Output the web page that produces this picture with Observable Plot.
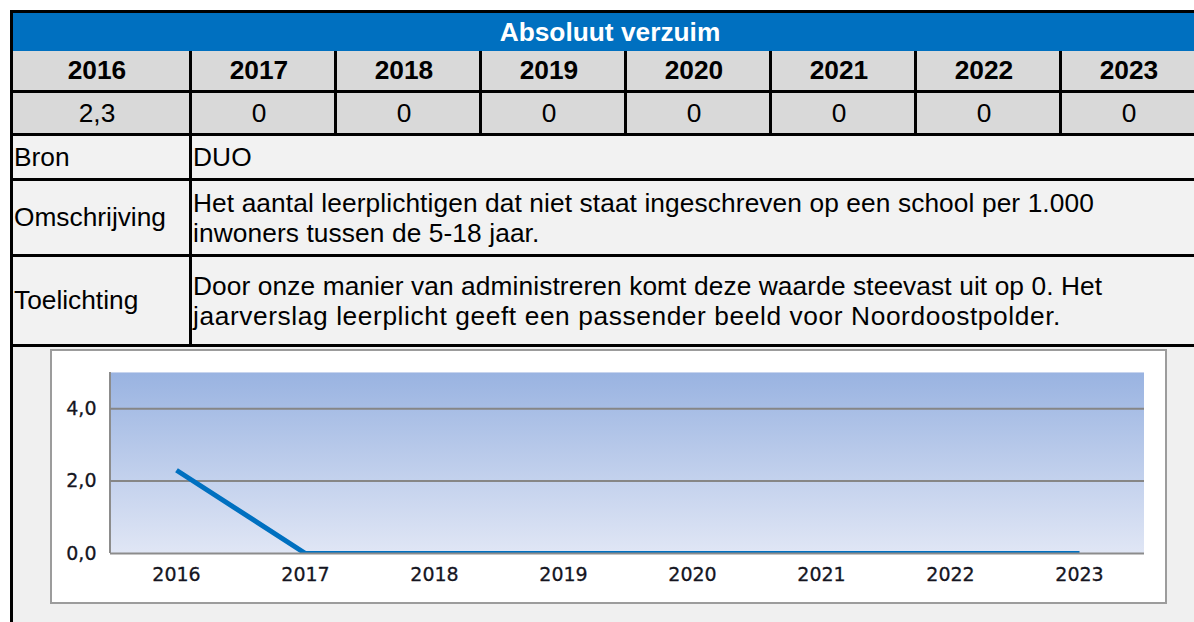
<!DOCTYPE html>
<html>
<head>
<meta charset="utf-8">
<script src="https://cdn.jsdelivr.net/npm/d3@7"></script>
<script src="https://cdn.jsdelivr.net/npm/@observablehq/plot@0.6"></script>
<style>
  html, body { margin: 0; padding: 0; }
  body { width: 1194px; height: 622px; overflow: hidden; position: relative; background: #ffffff;
         font-family: "Liberation Sans", Arial, sans-serif; color: #000; }
  #frame { position: absolute; left: 10px; top: 10px; width: 1200px; height: 700px; background: #000; }
  .cell { position: absolute; box-sizing: border-box; display: flex; align-items: center; white-space: nowrap;
          font-size: 26.3px; }
  .center { justify-content: center; }
  .line { display: block; line-height: 30px; }
  #chartBox { position: absolute; box-sizing: border-box; border: 2px solid #9c9c9c; background: #fff; }
</style>
</head>
<body>
<div id="frame"></div>
<script>
// ---- data ----
const title = "Absoluut verzuim";
const years = [2016, 2017, 2018, 2019, 2020, 2021, 2022, 2023];
const values = [2.3, 0, 0, 0, 0, 0, 0, 0];
const valueLabels = ["2,3", "0", "0", "0", "0", "0", "0", "0"];
const infoLabels = ["Bron", "Omschrijving", "Toelichting"];
const infoLines = [
  ["DUO"],
  ["Het aantal leerplichtigen dat niet staat ingeschreven op een school per 1.000",
   "inwoners tussen de 5-18 jaar."],
  ["Door onze manier van administreren komt deze waarde steevast uit op 0. Het",
   "jaarverslag leerplicht geeft een passender beeld voor Noordoostpolder."]
];
const yTicks = [0, 2, 4];
const yMax = 5;

// ---- table layout ----
const lineSpacing = [[0.1], [0.1, 0.1], [0.1, 0.6]];
const body = document.body;
function cell(x, y, w, h, bg, cls, html, style = "") {
  const d = document.createElement("div");
  d.className = "cell " + cls;
  d.style.cssText = `left:${x}px;top:${y}px;width:${w}px;height:${h}px;background:${bg};${style}`;
  d.innerHTML = html;
  body.appendChild(d);
  return d;
}
const left = 13, right = 1207;
const firstW = 176, colW = 142, gap = 3;
const colStart = i => i === 0 ? left : left + firstW + gap + (i - 1) * (colW + gap);
const colWidth = i => i === 0 ? firstW : colW;

// header
cell(left, 13, right - left, 38, "#0070c0", "center", title,
     "color:#fff;font-weight:bold;");
// years row
years.forEach((yr, i) => cell(colStart(i), 51, colWidth(i), 39, "#d9d9d9", "center", String(yr),
     "font-weight:bold;padding-right:8px;"));
// values row
valueLabels.forEach((v, i) => cell(colStart(i), 93, colWidth(i), 40, "#d9d9d9", "center", v,
     "padding-right:8px;"));
// info rows
const rowY = [[136, 42], [181, 73], [257, 87]];
infoLabels.forEach((lab, r) => {
  const [y, h] = rowY[r];
  cell(left, y, firstW, h, "#f2f2f2", "", lab, "padding-left:1px;");
  const html = infoLines[r].map((t, k) =>
    `<span class="line" style="letter-spacing:${lineSpacing[r][k]}px">${t}</span>`).join("");
  cell(left + firstW + gap, y, right - left - firstW - gap, h, "#f2f2f2", "",
       `<div>${html}</div>`, "padding-left:1px;");
});
// chart area background
cell(left, 347, right - left, 300, "#f0f0f0", "", "");

// ---- chart ----
const box = document.createElement("div");
box.id = "chartBox";
box.style.cssText = "left:50px;top:349px;width:1117px;height:255px;";
body.appendChild(box);

const data = years.map((yr, i) => ({year: yr, value: values[i]}));

function backdrop(index, scales, vals, dims) {
  const {width, height, marginLeft, marginRight, marginTop, marginBottom} = dims;
  const x0 = marginLeft, x1 = width - marginRight, y0 = marginTop, y1 = height - marginBottom;
  const g = d3.create("svg:g");
  const grad = g.append("defs").append("linearGradient")
    .attr("id", "plotGrad").attr("x1", 0).attr("y1", 0).attr("x2", 0).attr("y2", 1);
  grad.append("stop").attr("offset", 0).attr("stop-color", "#99b3e1");
  grad.append("stop").attr("offset", 1).attr("stop-color", "#e0e6f5");
  g.append("rect").attr("x", x0).attr("y", y0).attr("width", x1 - x0).attr("height", y1 - y0)
    .attr("fill", "url(#plotGrad)");
  g.append("line").attr("x1", x0).attr("x2", x1).attr("y1", y0 + 0.5).attr("y2", y0 + 0.5)
    .attr("stroke", "#c7d4ee").attr("stroke-width", 1);
  g.append("line").attr("x1", x0).attr("x2", x0).attr("y1", y0).attr("y2", y1)
    .attr("stroke", "#8c8c8c").attr("stroke-width", 2);
  return g.node();
}

const axisFont = {fontSize: 19, fill: "#15151f", textStroke: "#15151f", textStrokeWidth: 0.3};
const chart = Plot.plot({
  width: 1113,
  height: 251,
  marginLeft: 58,
  marginRight: 21,
  marginTop: 21,
  marginBottom: 49,
  style: {fontFamily: "'DejaVu Sans', Verdana, sans-serif", fontSize: "19px", background: "transparent", color: "#15151f"},
  x: {type: "point", domain: years, padding: 0.5, label: null},
  y: {domain: [0, yMax], label: null},
  marks: [
    backdrop,
    Plot.ruleY(yTicks.filter(t => t > 0), {stroke: "#868686", strokeWidth: 2}),
    Plot.line(data, {x: "year", y: "value", stroke: "#0070c0", strokeWidth: 5,
                     strokeLinecap: "butt", strokeLinejoin: "round", clip: true}),
    Plot.ruleY([0], {stroke: "#8c8c8c", strokeWidth: 2}),
    Plot.axisY({ticks: yTicks, tickSize: 0, tickPadding: 14, label: null, ...axisFont,
                tickFormat: d => d.toFixed(1).replace(".", ",")}),
    Plot.axisX({tickSize: 0, tickPadding: 14, label: null, ...axisFont, tickFormat: d => String(d)})
  ]
});
chart.style.display = "block";
box.appendChild(chart);
</script>
</body>
</html>
